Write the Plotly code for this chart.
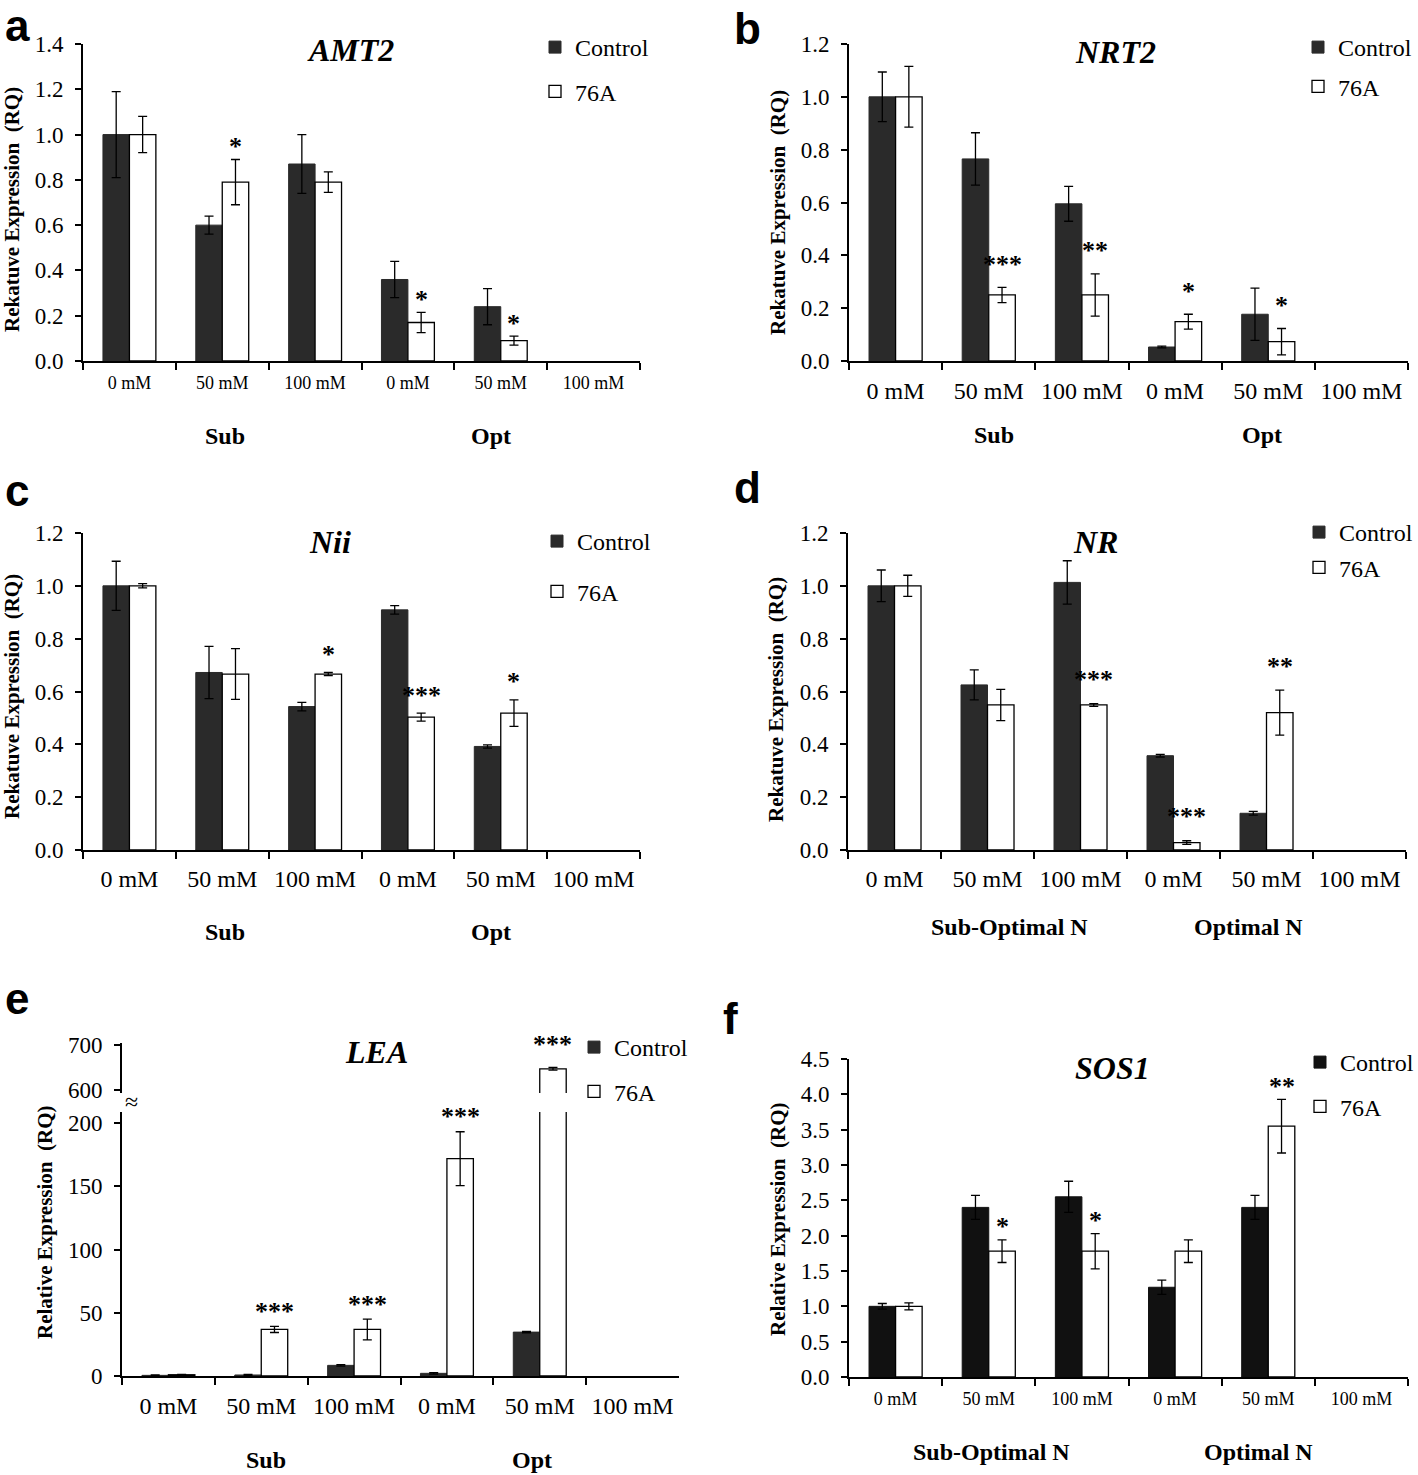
import plotly.graph_objects as go

W, H = 1418, 1475

# ---------------- data ----------------
categories = ["Sub 0 mM", "Sub 50 mM", "Sub 100 mM", "Opt 0 mM", "Opt 50 mM", "Opt 100 mM"]
tick_labels = ["0 mM", "50 mM", "100 mM", "0 mM", "50 mM", "100 mM"]
series_names = ["Control", "76A"]

amt2_control = [1.00, 0.60, 0.87, 0.36, 0.24, None]
amt2_control_err = [0.19, 0.04, 0.13, 0.08, 0.08, None]
amt2_76a = [1.00, 0.79, 0.79, 0.17, 0.09, None]
amt2_76a_err = [0.08, 0.10, 0.045, 0.045, 0.02, None]
amt2_sig = ["", "*", "", "*", "*", ""]

nrt2_control = [1.00, 0.765, 0.595, 0.053, 0.177, None]
nrt2_control_err = [0.094, 0.099, 0.066, 0.003, 0.099, None]
nrt2_76a = [1.00, 0.25, 0.25, 0.149, 0.073, None]
nrt2_76a_err = [0.115, 0.029, 0.08, 0.028, 0.05, None]
nrt2_sig = ["", "***", "**", "*", "*", ""]

nii_control = [1.00, 0.672, 0.543, 0.909, 0.392, None]
nii_control_err = [0.093, 0.099, 0.016, 0.016, 0.006, None]
nii_76a = [1.00, 0.666, 0.666, 0.503, 0.518, None]
nii_76a_err = [0.008, 0.096, 0.006, 0.015, 0.05, None]
nii_sig = ["", "", "*", "***", "*", ""]

nr_control = [1.00, 0.625, 1.013, 0.357, 0.139, None]
nr_control_err = [0.06, 0.057, 0.082, 0.005, 0.007, None]
nr_76a = [1.00, 0.549, 0.549, 0.028, 0.52, None]
nr_76a_err = [0.04, 0.059, 0.005, 0.007, 0.085, None]
nr_sig = ["", "", "***", "***", "**", ""]

lea_control = [0.5, 0.8, 8.4, 2.1, 34.7, None]
lea_control_err = [0.3, 0.4, 0.6, 0.6, 0.5, None]
lea_76a = [1.0, 36.8, 36.8, 171.8, 646.7, None]
lea_76a_err = [0.2, 2.4, 8.2, 21.3, 3.0, None]
lea_sig = ["", "***", "***", "***", "***", ""]

sos1_control = [1.00, 2.40, 2.55, 1.27, 2.40, None]
sos1_control_err = [0.04, 0.17, 0.22, 0.10, 0.17, None]
sos1_76a = [1.00, 1.78, 1.78, 1.78, 3.55, None]
sos1_76a_err = [0.05, 0.16, 0.25, 0.16, 0.38, None]
sos1_sig = ["", "*", "*", "", "**", ""]

gene_titles = ["AMT2", "NRT2", "Nii", "NR", "LEA", "SOS1"]
panel_letters = ["a", "b", "c", "d", "e", "f"]
ytitle_rekatuve = "Rekatuve Expression  (RQ)"
ytitle_relative = "Relative Expression  (RQ)"
groups_short = ["Sub", "Opt"]
groups_long = ["Sub-Optimal N", "Optimal N"]

# ---------------- layout helpers ----------------
def px_x(px):
    return px / W

def px_y(py):
    return 1 - py / H

SERIF = "Liberation Serif, Times New Roman, serif"
SANS = "Liberation Sans, Arial, sans-serif"
BARGAP = 0.43

panels = [
    dict(data=(amt2_control, amt2_control_err, amt2_76a, amt2_76a_err, amt2_sig),
         x=(83, 640), y=(44, 361), rng=[0, 1.4], dtick=0.2, fmt=".1f",
         xfont=18, xstand=4, ytitle=ytitle_rekatuve, ytpos=(12, 210),
         title_pos=(350, 50), leg=(575, 48, 44), groups=groups_short, star_gap=17,
         gy=436, gshift=(3, -10), letter=(17, 26), ctrl="#2a2a2a"),
    dict(data=(nrt2_control, nrt2_control_err, nrt2_76a, nrt2_76a_err, nrt2_sig),
         x=(849, 1408), y=(44, 361), rng=[0, 1.2], dtick=0.2, fmt=".1f",
         xfont=24, xstand=7, ytitle=ytitle_rekatuve, ytpos=(778, 213),
         title_pos=(1115, 52), leg=(1338, 48, 39), groups=groups_short, star_gap=27,
         gy=435, gshift=(5, -6), letter=(748, 28), ctrl="#2a2a2a"),
    dict(data=(nii_control, nii_control_err, nii_76a, nii_76a_err, nii_sig),
         x=(83, 640), y=(533, 850), rng=[0, 1.2], dtick=0.2, fmt=".1f",
         xfont=24, xstand=6, ytitle=ytitle_rekatuve, ytpos=(12, 697),
         title_pos=(330, 542), leg=(577, 542, 50), groups=groups_short, star_gap=22,
         gy=932, gshift=(3, -10), letter=(17, 490), ctrl="#2a2a2a"),
    dict(data=(nr_control, nr_control_err, nr_76a, nr_76a_err, nr_sig),
         x=(848, 1406), y=(533, 850), rng=[0, 1.2], dtick=0.2, fmt=".1f",
         xfont=24, xstand=6, ytitle=ytitle_rekatuve, ytpos=(776, 700),
         title_pos=(1095, 542), leg=(1339, 533, 35), groups=groups_long, star_gap=28,
         gy=927, gshift=(22, -18), letter=(748, 487), ctrl="#2a2a2a"),
    dict(data=(lea_control, lea_control_err, lea_76a, lea_76a_err, lea_sig),
         x=(122, 679), y=(1112, 1376), rng=[0, 208.7], tickvals=[0, 50, 100, 150, 200],
         fmt="d", upper=dict(y=(1043, 1093), rng=[593, 704], tickvals=[600, 700]),
         xfont=24, xstand=7, ytitle=ytitle_relative, ytpos=(45, 1222),
         title_pos=(377, 1052), leg=(614, 1048, 44), groups=groups_short, star_gap=19,
         gy=1460, gshift=(5, -8), letter=(17, 998), ctrl="#2a2a2a"),
    dict(data=(sos1_control, sos1_control_err, sos1_76a, sos1_76a_err, sos1_sig),
         x=(849, 1408), y=(1059, 1377), rng=[0, 4.5], dtick=0.5, fmt=".1f",
         xfont=18, xstand=4, ytitle=ytitle_relative, ytpos=(778, 1219),
         title_pos=(1112, 1068), leg=(1340, 1063, 44), groups=groups_long, star_gap=17,
         gy=1452, gshift=(3, -10), letter=(730, 1018), ctrl="#111111"),
]

fig = go.Figure()
annotations = []
layout = dict(
    width=W, height=H, margin=dict(l=0, r=0, t=0, b=0, autoexpand=False),
    paper_bgcolor="white", plot_bgcolor="white",
    barmode="group", bargap=BARGAP, bargroupgap=0,
    font=dict(family=SERIF, color="black"),
)

def err(arr):
    return dict(type="data", array=arr, color="black", thickness=1.3, width=4.5, visible=True)

def note(text, px, py, size, family=SERIF, **kw):
    d = dict(text=text, x=px_x(px), y=px_y(py), xref="paper", yref="paper",
             xanchor="center", yanchor="middle", showarrow=False,
             font=dict(family=family, size=size, color="black"))
    d.update(kw)
    return d

def y_axis(domain_px, anchor, rng):
    return dict(
        domain=[px_y(domain_px[1]), px_y(domain_px[0])], anchor=anchor, range=rng,
        showline=True, linecolor="black", linewidth=2, ticks="outside",
        ticklen=6, tickwidth=1.5, tickcolor="black", ticklabelstandoff=7,
        tickfont=dict(family=SERIF, size=23, color="black"),
        showgrid=False, zeroline=False, fixedrange=True)

for i, p in enumerate(panels, start=1):
    ctrl, ctrl_e, a76, a76_e, sig = p["data"]
    xa, ya = f"x{i}", f"y{i}"
    leg_name = "legend" if i == 1 else f"legend{i}"
    subplots = [(ya, True)]
    if "upper" in p:
        subplots.append(("y7", False))
    for yref, show in subplots:
        fig.add_trace(go.Bar(
            x=categories, y=ctrl, name=series_names[0], error_y=err(ctrl_e),
            marker=dict(color=p["ctrl"], line=dict(color=p["ctrl"], width=1)),
            xaxis=xa, yaxis=yref, offsetgroup="ctrl", legend=leg_name,
            legendgroup=f"ctrl{i}", showlegend=show))
        fig.add_trace(go.Bar(
            x=categories, y=a76, name=series_names[1], error_y=err(a76_e),
            marker=dict(color="white", line=dict(color="black", width=1.3)),
            xaxis=xa, yaxis=yref, offsetgroup="a76", legend=leg_name,
            legendgroup=f"a76{i}", showlegend=show))

    x0, x1 = p["x"]
    layout[f"xaxis{i}"] = dict(
        domain=[px_x(x0), px_x(x1)], anchor=ya, type="category",
        categoryorder="array", categoryarray=categories,
        tickvals=categories, ticktext=tick_labels, range=[-0.5, 5.5],
        showline=True, linecolor="black", linewidth=2, ticks="outside",
        tickson="boundaries", ticklen=7, tickwidth=1.5, tickcolor="black",
        ticklabelstandoff=p["xstand"],
        tickfont=dict(family=SERIF, size=p["xfont"], color="black"),
        showgrid=False, zeroline=False, fixedrange=True)
    yax = y_axis(p["y"], xa, p["rng"])
    if "tickvals" in p:
        yax["tickvals"] = p["tickvals"]
    else:
        yax["dtick"] = p["dtick"]
        yax["tick0"] = 0
        yax["tickformat"] = p["fmt"]
    layout[f"yaxis{i}"] = yax
    if "upper" in p:
        u = p["upper"]
        upper_ax = y_axis(u["y"], xa, u["rng"])
        upper_ax["tickvals"] = u["tickvals"]
        layout["yaxis7"] = upper_ax
        annotations.append(note("≈", 131, 1102, 24))

    # significance marks above 76A bars
    cat_px = (x1 - x0) / len(categories)
    bar_px = cat_px * (1 - BARGAP) / 2
    for j, s in enumerate(sig):
        if not s:
            continue
        top = a76[j] + a76_e[j]
        yref = ya
        gap = p["star_gap"]
        if "upper" in p and top > p["rng"][1]:
            yref = "y7"
            gap = 27
        annotations.append(dict(
            text=f"<b>{s}</b>", x=categories[j], y=top, xref=xa, yref=yref,
            xanchor="center", yanchor="middle",
            xshift=bar_px / 2, yshift=gap - 4,
            showarrow=False, font=dict(family=SERIF, size=26, color="black")))

    # title (gene name)
    tx, ty = p["title_pos"]
    annotations.append(note(f"<b><i>{gene_titles[i-1]}</i></b>", tx, ty, 32))

    # y axis title
    yx, yy = p["ytpos"]
    annotations.append(note(f"<b>{p['ytitle']}</b>", yx, yy, 21, textangle=-90))

    # group labels
    for k, g in enumerate(p["groups"]):
        annotations.append(dict(
            text=f"<b>{g}</b>", x=categories[1 + 3 * k], y=px_y(p["gy"]),
            xref=xa, yref="paper", xanchor="center", yanchor="middle",
            xshift=p["gshift"][k], showarrow=False,
            font=dict(family=SERIF, size=24, color="black")))

    # panel letter
    lx, ly = p["letter"]
    annotations.append(note(f"<b>{panel_letters[i-1]}</b>", lx, ly, 44, family=SANS))

    # legend (text starts at tx0, first row centred at r1)
    tx0, r1, gap = p["leg"]
    layout[leg_name] = dict(
        x=px_x(tx0 - 40), y=px_y(r1 - 23), xanchor="left", yanchor="top",
        bgcolor="rgba(0,0,0,0)", borderwidth=0, itemwidth=30,
        traceorder="grouped", tracegroupgap=max(gap - 34, 0),
        font=dict(family=SERIF, size=24, color="black"), itemclick=False)

layout["annotations"] = annotations
fig.update_layout(**layout)
# place the figure at the very top-left of the page (no default body margin)
fig.write_html("out.html", config={"displayModeBar": False},
               post_script="document.body.style.margin='0';")
